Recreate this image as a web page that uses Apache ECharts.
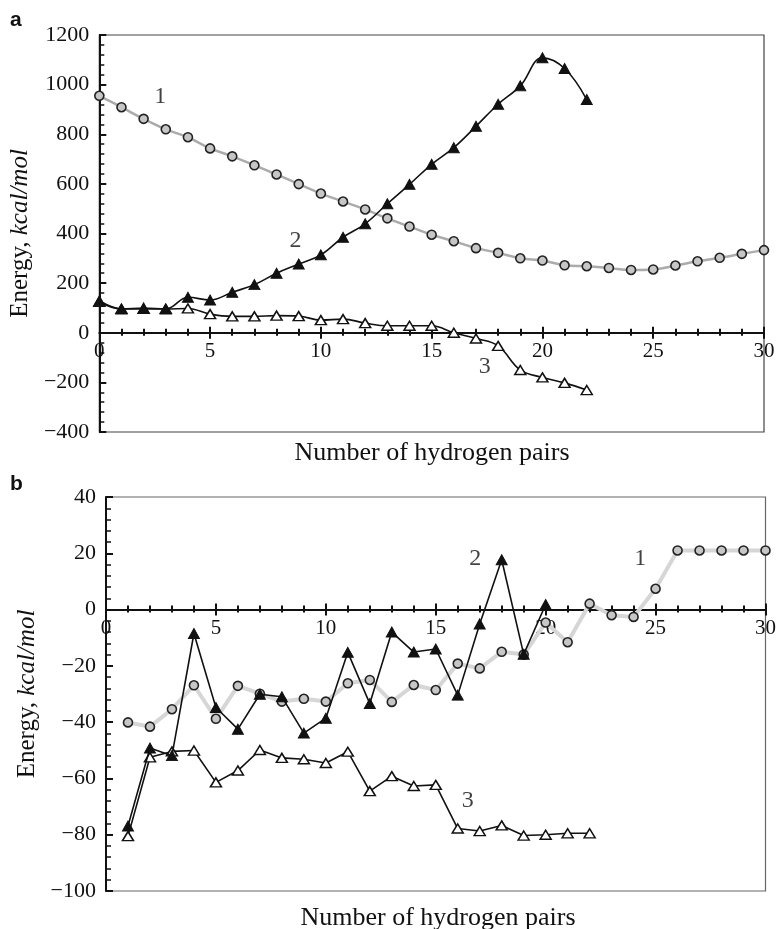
<!DOCTYPE html>
<html>
<head>
<meta charset="utf-8">
<script src="https://cdn.jsdelivr.net/npm/echarts@6/dist/echarts.min.js"></script>
<style>
  html, body { margin: 0; padding: 0; background: #fff; }
  #chart { width: 779px; height: 929px; }
</style>
</head>
<body>
<div id="chart"></div>
<script>
// ---- Panel a: total energies vs number of hydrogen pairs ----
const pairsA1 = [0,1,2,3,4,5,6,7,8,9,10,11,12,13,14,15,16,17,18,19,20,21,22,23,24,25,26,27,28,29,30];
const energyA1 = [955,909,862,820,788,743,711,675,638,599,561,529,497,461,428,395,369,341,322,300,291,272,268,261,253,255,271,288,302,318,333];
const pairsA2 = [0,1,2,3,4,5,6,7,8,9,10,11,12,13,14,15,16,17,18,19,20,21,22];
const energyA2 = [129,96,100,96,143,132,163,194,240,277,314,385,439,520,598,679,746,832,921,995,1108,1065,940];
const pairsA3 = [0,1,2,3,4,5,6,7,8,9,10,11,12,13,14,15,16,17,18,19,20,21,22];
const energyA3 = [125,96,96,96,98,75,66,66,69,67,51,55,39,28,28,28,0,-23,-53,-150,-180,-202,-231];

// ---- Panel b: energy increments vs number of hydrogen pairs ----
const pairsB1 = [1,2,3,4,5,6,7,8,9,10,11,12,13,14,15,16,17,18,19,20,21,22,23,24,25,26,27,28,29,30];
const energyB1 = [-40.1,-41.6,-35.4,-26.9,-38.8,-27.1,-29.9,-32.7,-31.7,-32.7,-26.2,-25.0,-32.8,-26.8,-28.6,-19.2,-20.9,-15.0,-16.0,-4.6,-11.6,2.1,-2.0,-2.6,7.4,21,21,21,21,21];
const pairsB2 = [1,2,3,4,5,6,7,8,9,10,11,12,13,14,15,16,17,18,19,20];
const energyB2 = [-76.9,-49.2,-51.9,-8.5,-34.8,-42.5,-30.1,-31.0,-43.9,-38.6,-15.2,-33.4,-8.0,-15.1,-14.0,-30.4,-5.1,17.7,-15.9,1.8];
const pairsB3 = [1,2,3,4,5,6,7,8,9,10,11,12,13,14,15,16,17,18,19,20,21,22];
const energyB3 = [-80.5,-52.5,-50.4,-50.1,-61.4,-57.2,-49.9,-52.7,-53.2,-54.5,-50.5,-64.5,-59.2,-62.7,-62.3,-77.8,-78.7,-76.7,-80.3,-80,-79.5,-79.5];

// Curve numbers, anchored in data coordinates
const curveTagsA = [{ name: '1', x: 2.75, y: 950 }, { name: '2', x: 8.85, y: 370 }, { name: '3', x: 17.4, y: -137 }];
const curveTagsB = [{ name: '2', x: 16.8, y: 18 }, { name: '1', x: 24.3, y: 18 }, { name: '3', x: 16.45, y: -68 }];

// Axis settings
const xMin = 0, xMax = 30, xStep = 5;
const yRangeA = { min: -400, max: 1200, interval: 200 };
const yRangeB = { min: -100, max: 40, interval: 20 };
const xTitle = 'Number of hydrogen pairs';
const yTitle = '{n|Energy, }{i|kcal/mol}';

const SERIF = '"Liberation Serif", "Times New Roman", serif';
const FS_X = 21;
const FS_Y = 22;

const zip = (xs, ys) => xs.map((x, i) => [x, ys[i]]);
const minusFmt = v => (v < 0 ? '\u2212' + Math.abs(v) : String(v));

// Two x axes per grid: the labelled one with inward ticks, and a bare one with outward ticks,
// so the ticks cross the line. Both are shifted up to the y = 0 level once the scale is known.
function xAxes(grid) {
  return [
    {
      type: 'value', gridIndex: grid, min: xMin, max: xMax, interval: xStep, position: 'bottom', offset: 0,
      axisLine: { onZero: false, lineStyle: { color: '#111', width: 2 } },
      axisTick: { inside: true, length: 6, lineStyle: { color: '#111', width: 2 } },
      minorTick: { show: true, splitNumber: 5, length: 4, lineStyle: { color: '#111', width: 2 } },
      axisLabel: { color: '#111', fontFamily: SERIF, fontSize: FS_X, margin: 8 },
      splitLine: { show: false }
    },
    {
      type: 'value', gridIndex: grid, min: xMin, max: xMax, interval: xStep, position: 'bottom', offset: 0,
      axisLine: { onZero: false, show: false },
      axisTick: { inside: false, length: 6, lineStyle: { color: '#111', width: 2 } },
      minorTick: { show: true, splitNumber: 5, length: 3, lineStyle: { color: '#111', width: 2 } },
      axisLabel: { show: false }, splitLine: { show: false }
    }
  ];
}

function yAxes(grid, range) {
  return [
    {
      type: 'value', gridIndex: grid, min: range.min, max: range.max, interval: range.interval,
      axisLine: { show: true, lineStyle: { color: '#111', width: 2 } },
      axisTick: { inside: true, length: 6, lineStyle: { color: '#111', width: 2 } },
      minorTick: { show: true, splitNumber: 5, length: 5, lineStyle: { color: '#111', width: 1.5 } },
      axisLabel: { color: '#111', fontFamily: SERIF, fontSize: FS_Y, margin: 10, formatter: minusFmt },
      splitLine: { show: false },
      name: yTitle, nameLocation: 'middle', nameGap: 64, nameRotate: 90,
      nameTextStyle: {
        rich: {
          n: { fontFamily: SERIF, fontSize: 25, color: '#111' },
          i: { fontFamily: SERIF, fontSize: 25, color: '#111', fontStyle: 'italic' }
        }
      }
    },
    {
      type: 'value', gridIndex: grid, min: range.min, max: range.max, interval: range.interval,
      axisLine: { show: false },
      axisTick: { inside: false, length: 7, lineStyle: { color: '#111', width: 2 } },
      axisLabel: { show: false }, splitLine: { show: false }
    }
  ];
}

const circleStyle = { color: '#c6c6c6', borderColor: '#222', borderWidth: 1.6 };
const solidTri = { color: '#111', borderColor: '#111', borderWidth: 1 };
const openTri = { color: '#fff', borderColor: '#111', borderWidth: 1.5 };

function tagSeries(xi, yi, tags) {
  return {
    type: 'scatter', xAxisIndex: xi, yAxisIndex: yi, symbolSize: 0, silent: true, z: 5,
    data: tags.map(t => ({ name: t.name, value: [t.x, t.y] })),
    label: { show: true, position: 'inside', formatter: '{b}', color: '#111', fontFamily: SERIF, fontSize: 24 }
  };
}

const titleFont = '26px "Liberation Serif", "Times New Roman", serif';
const panelFont = 'bold 21px "Liberation Sans", Arial, sans-serif';

const option = {
  animation: false,
  backgroundColor: '#fff',
  grid: [
    { left: 99, right: 15, top: 35, height: 397, show: true, borderColor: '#444', borderWidth: 1.2, backgroundColor: 'transparent' },
    { left: 106, right: 9, top: 497, height: 394, show: true, borderColor: '#666', borderWidth: 1.2, backgroundColor: 'transparent' }
  ],
  xAxis: [...xAxes(0), ...xAxes(1)],
  yAxis: [...yAxes(0, yRangeA), ...yAxes(1, yRangeB)],
  graphic: [
    { type: 'text', left: 10, top: 10, style: { text: 'a', font: panelFont, fill: '#111' } },
    { type: 'text', left: 10, top: 474, style: { text: 'b', font: panelFont, fill: '#111' } },
    { type: 'text', x: 432, y: 440, style: { text: xTitle, align: 'center', font: titleFont, fill: '#111' } },
    { type: 'text', x: 438, y: 905, style: { text: xTitle, align: 'center', font: titleFont, fill: '#111' } }
  ],
  series: [
    { type: 'line', xAxisIndex: 0, yAxisIndex: 0, data: zip(pairsA1, energyA1), smooth: 0.4,
      lineStyle: { color: '#ababab', width: 2.5 }, symbol: 'circle', symbolSize: 9, itemStyle: circleStyle, z: 2 },
    { type: 'line', xAxisIndex: 0, yAxisIndex: 0, data: zip(pairsA3, energyA3), smooth: 0.4,
      lineStyle: { color: '#111', width: 1.6 }, symbol: 'triangle', symbolSize: [11, 9], itemStyle: openTri, z: 3 },
    { type: 'line', xAxisIndex: 0, yAxisIndex: 0, data: zip(pairsA2, energyA2), smooth: 0.4,
      lineStyle: { color: '#111', width: 1.6 }, symbol: 'triangle', symbolSize: [11, 10], itemStyle: solidTri, z: 4 },
    tagSeries(0, 0, curveTagsA),

    { type: 'line', xAxisIndex: 2, yAxisIndex: 2, data: zip(pairsB1, energyB1),
      lineStyle: { color: '#d6d6d6', width: 4 }, symbol: 'circle', symbolSize: 9, itemStyle: circleStyle, z: 2 },
    { type: 'line', xAxisIndex: 2, yAxisIndex: 2, data: zip(pairsB3, energyB3),
      lineStyle: { color: '#111', width: 1.6 }, symbol: 'triangle', symbolSize: [11, 9], itemStyle: openTri, z: 3 },
    { type: 'line', xAxisIndex: 2, yAxisIndex: 2, data: zip(pairsB2, energyB2),
      lineStyle: { color: '#111', width: 1.6 }, symbol: 'triangle', symbolSize: [11, 10], itemStyle: solidTri, z: 4 },
    tagSeries(2, 2, curveTagsB)
  ]
};

const chart = echarts.init(document.getElementById('chart'), null, { renderer: 'canvas' });
chart.setOption(option);

// Lift each panel's x axes from the frame bottom to the zero level of its y scale.
function zeroOffset(yAxisIndex, yMin) {
  const zeroPx = chart.convertToPixel({ yAxisIndex }, 0);
  const bottomPx = chart.convertToPixel({ yAxisIndex }, yMin);
  return zeroPx - bottomPx;
}
const offA = zeroOffset(0, yRangeA.min);
const offB = zeroOffset(2, yRangeB.min);
chart.setOption({
  xAxis: [{ offset: offA }, { offset: offA }, { offset: offB }, { offset: offB }]
});
</script>
</body>
</html>
